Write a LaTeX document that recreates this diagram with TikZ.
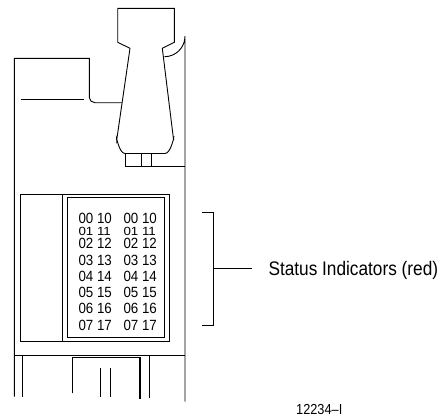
\documentclass[tikz,border=0pt]{standalone}
\usepackage{fontspec}
\newfontfamily\narrow[FakeStretch=0.88]{Liberation Sans}
\newfontfamily\narrowd[FakeStretch=0.9]{Liberation Sans}
\begin{document}
\begin{tikzpicture}[x=1pt,y=-1pt,
  ln/.style={line width=0.9pt,black},
  thk/.style={line width=1.4pt,black},
  dig/.style={inner sep=0pt,anchor=west,font=\narrowd\fontsize{14.8}{14.8}\selectfont},
  lab/.style={inner sep=0pt,anchor=base west,font=\narrow\fontsize{19.6}{19.6}\selectfont},
  fig/.style={inner sep=0pt,anchor=base west,font=\narrow\fontsize{14.5}{14.5}\selectfont}]
\useasboundingbox (0,0) rectangle (445,418);
% connector handle
\draw[ln] (130,48.3) -- (117.7,42.3) -- (117.7,8.3) -- (174.3,8.3) -- (174.3,42.3) -- (162.3,48.3)
  -- (173.6,140) to[out=84,in=0,looseness=1] (165,153.5) -- (125,153.5)
  to[out=180,in=96] (116.7,140) -- cycle;
% tabs below handle
\draw[ln] (125,153.5) -- (125,166.7) -- (185,166.7);
\draw[ln] (141,153.5) -- (141,166.7);
\draw[ln] (151.5,153.5) -- (151.5,166.7);
% right edge with curved top
\draw[ln] (164.5,56.7) arc[start angle=90,end angle=0,radius=20.5] -- (185,401.7);
% left shelf
\draw[ln] (14.3,396.7) -- (14.3,58.3) -- (89.3,58.3) -- (89.3,97.5) to[out=270,in=180] (95,102.7) -- (122.1,102.7);
\draw[ln] (20.7,99.3) -- (84.3,99.3);
% window
\draw[ln] (20.7,194.3) rectangle (169.3,341.7);
\draw[ln] (62.3,194.3) -- (62.3,341.7);
\draw[ln] (67.7,197.3) rectangle (164,337.3);
% lower part
\draw[ln] (14.3,355) -- (185,355);
\draw[ln] (22.7,355) -- (22.7,396.7);
\draw[ln] (72.3,393.3) -- (72.3,357.3) -- (140,357.3);
\draw[thk] (140,357.3) -- (140,399.3);
\draw[ln] (149.3,355) -- (149.3,397.7);
\draw[ln] (100,368.3) -- (100,396.7);
\draw[ln] (110.7,368.3) -- (110.7,396.7);
% status digits
\foreach \r/\y in {0/218.8,2/243.9,3/260.3,4/276.7,5/292,6/308.7,7/325.3}{
  \node[dig] (l\r) at (78.3,\y) {0\r\ 1\r};
  \node[dig] (r\r) at (123.3,\y) {0\r\ 1\r};
}
\node[dig] (l1) at (78.3,231.4) {\scalebox{1}[0.8]{01 11}};
\node[dig] (r1) at (123.3,231.4) {\scalebox{1}[0.8]{01 11}};
% bracket and label
\coordinate (bt) at (202.3,212.7);
\coordinate (bb) at (202.3,325);
\coordinate (bm) at (213.3,268.3);
\draw[ln] (bt) -- (213.3,212.7) -- (213.3,325) -- (bb);
\node[lab] (lbl) at (268.3,275.4) {Status Indicators (red)};
\coordinate (te) at (251.7,268.3);
\draw[ln] (bm) -- (te);
\node[fig] (fn) at (296,414.3) {12234–I};
\end{tikzpicture}
\end{document}
